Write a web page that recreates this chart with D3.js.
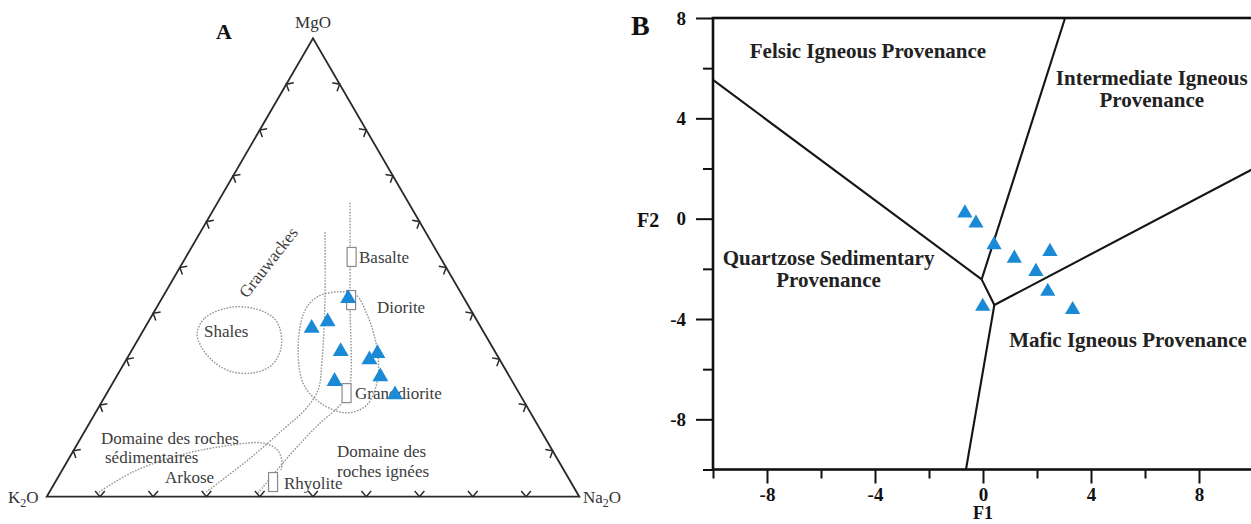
<!DOCTYPE html>
<html>
<head>
<meta charset="utf-8">
<script src="https://cdn.jsdelivr.net/npm/d3@7"></script>
<style>
  body { margin: 0; background: #fff; }
  svg { display: block; }
</style>
</head>
<body>
<svg id="chart" width="1251" height="524"></svg>
<script>
// ---------- Panel A: MgO – K2O – Na2O ternary (percent, normalised) ----------
const sampleK2O  = [21.6, 28.0, 31.7, 28.8, 22.1, 24.3, 24.1, 33.2, 23.3];
const sampleMgO  = [43.6, 38.5, 37.1, 32.0, 31.6, 30.2, 26.5, 25.5, 22.6];
const sampleNa2O = [34.8, 33.5, 31.2, 39.2, 46.3, 45.5, 49.4, 41.3, 54.1];

const ternaryTicks = d3.range(10, 100, 10);

// reference rock compositions, [Na2O, MgO]
const rockNames = ["Basalte", "Diorite", "Granodiorite", "Rhyolite"];
const rockComps = [[31.1, 52.3], [35.7, 42.9], [45.0, 22.6], [40.9, 3.2]];

// dotted field boundaries, [Na2O, MgO]
const shalesField = [[10.4,35.7],[10.2,39.0],[14.3,41.4],[20.2,40.5],[24.2,38.1],[27.7,32.7],
                     [27.9,28.7],[25.2,27.0],[20.7,27.4],[16.1,29.8],[12.3,33.1]];
const igneousField = [[29.0,43.6],[32.7,44.7],[36.1,44.0],[39.8,40.3],[43.8,35.3],[47.1,30.3],
                      [49.6,24.8],[50.1,20.0],[47.3,18.3],[41.6,20.2],[36.1,24.4],[31.4,31.6],[28.2,40.3]];
const grauwackeLeft  = [[23.4,57.7],[30.8,42.9],[36.8,29.8],[39.3,23.3],[39.0,18.9],[37.2,15.0],[34.0,8.4],[29.3,0.8]];
const grauwackeRight = [[24.9,64.1],[35.5,42.9],[45.1,23.3],[45.1,20.0],[43.1,15.6],[41.1,9.1],[39.3,0.8]];
const sedimentaryLimit = [[9.3,1.0],[13.5,5.4],[20.5,9.1],[29.3,11.3],[34.8,11.7],[38.2,10.2],[40.4,7.6],[41.1,5.8]];

// ---------- Panel B: discriminant function diagram ----------
const sampleF1 = [-0.67, -0.26, 0.41, 1.16, 2.48, 1.96, 2.40, -0.01, 3.32];
const sampleF2 = [ 0.28, -0.12, -0.98, -1.52, -1.25, -2.05, -2.84, -3.44, -3.57];

const f1Major = [-8, -4, 0, 4, 8];
const f1Minor = [-10, -6, -2, 2, 6, 10];
const f2Major = [-8, -4, 0, 4, 8];
const f2Minor = [-10, -6, -2, 2, 6];

const fieldBoundaries = [
  [[-10, 5.53], [-0.05, -2.42]],
  [[-0.05, -2.42], [3.04, 8]],
  [[-0.05, -2.42], [0.42, -3.44]],
  [[0.42, -3.44], [-0.63, -10]],
  [[0.42, -3.44], [10, 1.98]]
];

const fieldNames = [
  {lines: ["Felsic Igneous Provenance"], f1: -4.26, f2: 6.41},
  {lines: ["Intermediate Igneous", "Provenance"], f1: 6.25, f2: 5.33},
  {lines: ["Quartzose Sedimentary", "Provenance"], f1: -5.72, f2: -1.84},
  {lines: ["Mafic Igneous Provenance"], f1: 5.37, f2: -5.12}
];

// ---------------------------------------------------------------------
const svg = d3.select("#chart");
const blue = "#1b8ad6";
const serif = "'Liberation Serif', 'Times New Roman', serif";
const tri = d3.symbol().type(d3.symbolTriangle);

// ===== Panel A =====
const gA = svg.append("g");
const tx = d3.scaleLinear().domain([0, 100]).range([46.7, 579.3]);   // along base
const ty = d3.scaleLinear().domain([0, 100]).range([496.7, 38.3]);   // MgO height
const proj = (na, mg) => [tx(na + mg / 2), ty(mg)];

const vTop = proj(0, 100), vLeft = proj(0, 0), vRight = proj(100, 0);

gA.append("path")
  .attr("d", d3.line()([vLeft, vTop, vRight]) + "Z")
  .attr("fill", "none").attr("stroke", "#2a2a2a").attr("stroke-width", 1.8)
  .attr("stroke-linejoin", "miter");

// chevron ticks on each side, opening toward the interior
const chevron = (p, n, len = 7.5, spread = 40) => {
  const a = Math.atan2(n[1], n[0]);
  const r = spread * Math.PI / 180;
  const e1 = [p[0] + len * Math.cos(a - r), p[1] + len * Math.sin(a - r)];
  const e2 = [p[0] + len * Math.cos(a + r), p[1] + len * Math.sin(a + r)];
  return d3.line()([e1, p, e2]);
};
const sides = [
  {pt: t => proj(t, 0), n: [0, -1]},                  // K2O – Na2O base
  {pt: t => proj(0, t), n: [0.866, 0.5]},             // K2O – MgO side
  {pt: t => proj(100 - t, t), n: [-0.866, 0.5]}       // Na2O – MgO side
];
sides.forEach(s => {
  gA.append("g").selectAll("path").data(ternaryTicks).join("path")
    .attr("d", t => chevron(s.pt(t), s.n))
    .attr("fill", "none").attr("stroke", "#2a2a2a").attr("stroke-width", 1.5);
});

// dotted fields
const dotted = {fill: "none", stroke: "#959595", "stroke-width": 1.4, "stroke-dasharray": "1.6,1.4"};
const openCurve = d3.line().x(d => proj(d[0], d[1])[0]).y(d => proj(d[0], d[1])[1]).curve(d3.curveCatmullRom);
const closedCurve = d3.line().x(d => proj(d[0], d[1])[0]).y(d => proj(d[0], d[1])[1]).curve(d3.curveCatmullRomClosed);
const drawDotted = (d, gen) => {
  const p = gA.append("path").attr("d", gen(d));
  Object.entries(dotted).forEach(([k, v]) => p.attr(k, v));
};
drawDotted(shalesField, closedCurve);
drawDotted(igneousField, closedCurve);
drawDotted(grauwackeLeft, openCurve);
drawDotted(grauwackeRight, openCurve);
drawDotted(sedimentaryLimit, openCurve);

// reference rock boxes
gA.append("g").selectAll("rect").data(rockComps).join("rect")
  .attr("x", d => proj(d[0], d[1])[0] - 4.5)
  .attr("y", d => proj(d[0], d[1])[1] - 9.5)
  .attr("width", 9).attr("height", 19)
  .attr("fill", "#fff").attr("stroke", "#8a8a8a").attr("stroke-width", 1.2);

// annotation text
const annot = [
  {t: "Basalte", x: 359, y: 263},
  {t: "Diorite", x: 377, y: 313},
  {t: "Granodiorite", x: 355, y: 399},
  {t: "Rhyolite", x: 284, y: 489},
  {t: "Shales", x: 204, y: 337},
  {t: "Domaine des roches", x: 101, y: 444},
  {t: "sédimentaires", x: 105, y: 463},
  {t: "Arkose", x: 165, y: 483},
  {t: "Domaine des", x: 337, y: 457},
  {t: "roches ignées", x: 337, y: 477}
];
gA.append("g").selectAll("text").data(annot).join("text")
  .attr("x", d => d.x).attr("y", d => d.y).text(d => d.t)
  .attr("font-family", serif).attr("font-size", 17).attr("fill", "#3c3c3c");

gA.append("text").attr("transform", "translate(247,299) rotate(-52)")
  .text("Grauwackes").attr("font-family", serif).attr("font-size", 17).attr("fill", "#3c3c3c");

// apex labels
gA.append("text").attr("x", vTop[0]).attr("y", 28).attr("text-anchor", "middle")
  .attr("font-family", serif).attr("font-size", 17).attr("fill", "#333").text("MgO");
const k = gA.append("text").attr("x", 8).attr("y", 503)
  .attr("font-family", serif).attr("font-size", 17).attr("fill", "#333");
k.append("tspan").text("K");
k.append("tspan").attr("font-size", 12).attr("dy", 4).text("2");
k.append("tspan").attr("dy", -4).text("O");
const na = gA.append("text").attr("x", 583).attr("y", 503)
  .attr("font-family", serif).attr("font-size", 17).attr("fill", "#333");
na.append("tspan").text("Na");
na.append("tspan").attr("font-size", 12).attr("dy", 4).text("2");
na.append("tspan").attr("dy", -4).text("O");

gA.append("text").attr("x", 216).attr("y", 39).text("A")
  .attr("font-family", serif).attr("font-weight", "bold").attr("font-size", 22).attr("fill", "#111");

// samples
gA.append("g").selectAll("path").data(sampleMgO).join("path")
  .attr("transform", (mg, i) => {
    const p = proj(sampleNa2O[i], mg);
    return `translate(${p[0]},${p[1] + 1.5})`;
  })
  .attr("d", tri.size(110)())
  .attr("fill", blue);

// ===== Panel B =====
const gB = svg.append("g");
const x = d3.scaleLinear().domain([-10, 10]).range([713, 1253]);
const y = d3.scaleLinear().domain([-10, 8]).range([469.5, 18]);

const styleAxis = (g, labels) => {
  g.select(".domain").remove();
  g.selectAll("line").attr("stroke", "#111").attr("stroke-width", 2);
  g.selectAll("text").attr("font-family", serif).attr("font-weight", "bold")
    .attr("font-size", 19).attr("fill", "#111");
  if (!labels) g.selectAll("text").remove();
};

gB.append("g").attr("transform", `translate(0,${y(-10)})`)
  .call(d3.axisBottom(x).tickValues(f1Minor).tickSize(9).tickFormat(""))
  .call(g => styleAxis(g, false));
gB.append("g").attr("transform", `translate(0,${y(-10)})`)
  .call(d3.axisBottom(x).tickValues(f1Major).tickSize(14).tickPadding(4).tickFormat(d3.format("d")))
  .call(g => styleAxis(g, true));
gB.append("g").attr("transform", `translate(${x(-10)},0)`)
  .call(d3.axisLeft(y).tickValues(f2Minor).tickSize(10).tickFormat(""))
  .call(g => styleAxis(g, false));
gB.append("g").attr("transform", `translate(${x(-10)},0)`)
  .call(d3.axisLeft(y).tickValues(f2Major).tickSize(17).tickPadding(10).tickFormat(d3.format("d")))
  .call(g => styleAxis(g, true));
gB.selectAll("text").text(function () { return this.textContent.replace("−", "-"); });

// frame
gB.append("rect")
  .attr("x", x(-10)).attr("y", y(8))
  .attr("width", x(10) - x(-10)).attr("height", y(-10) - y(8))
  .attr("fill", "none").attr("stroke", "#111").attr("stroke-width", 2.6);

// field boundaries
gB.append("g").selectAll("path").data(fieldBoundaries).join("path")
  .attr("d", d => d3.line().x(p => x(p[0])).y(p => y(p[1]))(d))
  .attr("fill", "none").attr("stroke", "#151515").attr("stroke-width", 2.1);

// field names
const fn = gB.append("g").selectAll("text").data(fieldNames).join("text")
  .attr("x", d => x(d.f1)).attr("y", d => y(d.f2))
  .attr("text-anchor", "middle")
  .attr("font-family", serif).attr("font-weight", "bold").attr("font-size", 21).attr("fill", "#222");
fn.selectAll("tspan").data(d => d.lines.map((l, i) => ({l, i, f1: d.f1}))).join("tspan")
  .attr("x", d => x(d.f1)).attr("dy", d => d.i === 0 ? 0 : 22).text(d => d.l);

// axis titles
gB.append("text").attr("x", 637).attr("y", 227).text("F2")
  .attr("font-family", serif).attr("font-weight", "bold").attr("font-size", 20).attr("fill", "#111");
gB.append("text").attr("x", x(0)).attr("y", 519).attr("text-anchor", "middle").text("F1")
  .attr("font-family", serif).attr("font-weight", "bold").attr("font-size", 18).attr("fill", "#111");
gB.append("text").attr("x", 631).attr("y", 35).text("B")
  .attr("font-family", serif).attr("font-weight", "bold").attr("font-size", 28).attr("fill", "#111");

// samples
gB.append("g").selectAll("path").data(sampleF1).join("path")
  .attr("transform", (f1, i) => `translate(${x(f1)},${y(sampleF2[i]) + 1.5})`)
  .attr("d", tri.size(100)())
  .attr("fill", blue);
</script>
</body>
</html>
